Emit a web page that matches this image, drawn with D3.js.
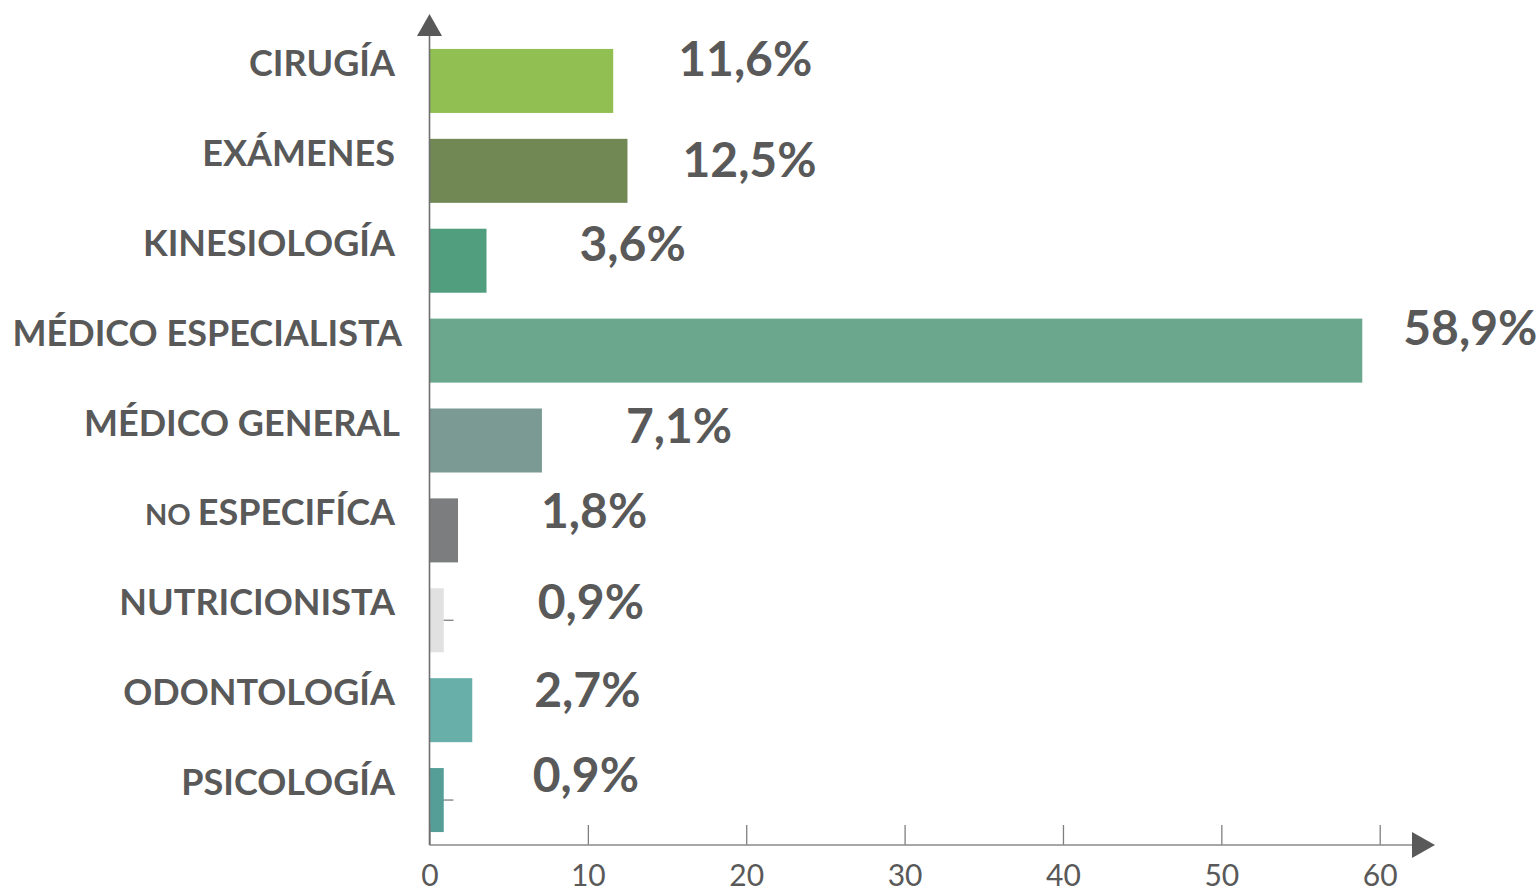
<!DOCTYPE html>
<html>
<head>
<meta charset="utf-8">
<script src="https://cdn.jsdelivr.net/npm/d3@7"></script>
<style>
    html, body { margin: 0; padding: 0; background: #fff; }
    svg { display: block; font-family: Lato, "Open Sans", sans-serif; }
</style>
</head>
<body>
<div id="chart"></div>
<script>
// Data
const categories = ['CIRUGÍA', 'EXÁMENES', 'KINESIOLOGÍA', 'MÉDICO ESPECIALISTA',
    'MÉDICO GENERAL', 'NO ESPECIFÍCA', 'NUTRICIONISTA', 'ODONTOLOGÍA', 'PSICOLOGÍA'];
const values = [11.6, 12.5, 3.6, 58.9, 7.1, 1.8, 0.9, 2.7, 0.9];
const valueLabels = ['11,6%', '12,5%', '3,6%', '58,9%', '7,1%', '1,8%', '0,9%', '2,7%', '0,9%'];
const barColors = ['#92bf52', '#718754', '#519e7f', '#6aa78c', '#7b9a94',
    '#7b7d7e', '#e1e1e1', '#68afaa', '#559e97'];
const xTicks = [0, 10, 20, 30, 40, 50, 60];

// Manual label placement from the original (layout only)
const valueDx = [65, 55, 93, 41, 84, 83, 94, 62, 89];
const valueDy = [-22, -11, -17.5, -23, -14.5, -19.5, -19, -20, -25.5];
const catDx = [0, 0, 0, 7, 5, 0, 0, 0, 0];

const width = 1540, height = 893;
const textColor = '#595959';

const svg = d3.select('#chart').append('svg')
    .attr('width', width)
    .attr('height', height);

const x = d3.scaleLinear().domain([0, 60]).range([429.5, 1379.7]);
const y = d3.scaleBand().domain(categories).range([36, 845])
    .paddingInner(0.288).paddingOuter(0.144);

const x0 = x(0);
const axisY = 845;

// small category ticks (sit behind the bars)
svg.append('g')
    .attr('transform', `translate(${x0},0)`)
    .call(d3.axisRight(y).tickSize(24).tickFormat(''))
    .call(g => g.select('.domain').remove())
    .call(g => g.selectAll('line').attr('stroke', '#7f7f7f').attr('stroke-width', 1.3));

// bars
svg.append('g').selectAll('rect')
    .data(categories)
    .join('rect')
    .attr('x', x0)
    .attr('y', d => y(d))
    .attr('width', (d, i) => x(values[i]) - x0)
    .attr('height', y.bandwidth())
    .attr('fill', (d, i) => barColors[i]);

// x axis: ticks upward, labels below
svg.append('g')
    .attr('transform', `translate(0,${axisY})`)
    .call(d3.axisBottom(x).tickValues(xTicks).tickSize(-20).tickPadding(20))
    .call(g => g.select('.domain').remove())
    .call(g => g.selectAll('line').attr('stroke', '#7f7f7f').attr('stroke-width', 1.3))
    .call(g => g.selectAll('text')
        .attr('fill', textColor)
        .style('font-family', 'Lato, sans-serif')
        .style('font-size', '30px'));

// axis lines with arrowheads
svg.append('line')
    .attr('x1', x0).attr('x2', 1413)
    .attr('y1', axisY).attr('y2', axisY)
    .attr('stroke', '#8a8a8a').attr('stroke-width', 1.6);
svg.append('line')
    .attr('x1', x0).attr('x2', x0)
    .attr('y1', axisY).attr('y2', 35)
    .attr('stroke', '#6f6f6f').attr('stroke-width', 1.6);
svg.append('path')
    .attr('d', `M1412,832 L1435,845 L1412,858 Z`)
    .attr('fill', textColor);
svg.append('path')
    .attr('d', `M${x0 - 12.5},36 L${x0},14 L${x0 + 12.5},36 Z`)
    .attr('fill', textColor);

// category labels
const catText = svg.append('g').selectAll('text')
    .data(categories)
    .join('text')
    .attr('x', (d, i) => 395 + catDx[i])
    .attr('y', d => y(d) + y.bandwidth() / 2 - 18 + 13)
    .attr('text-anchor', 'end')
    .attr('fill', textColor)
    .style('font-weight', 700)
    .style('font-size', '36px');

catText.each(function(d) {
    const t = d3.select(this);
    if (d.startsWith('NO ')) {
        t.append('tspan').style('font-size', '29px').text('NO ');
        t.append('tspan').text(d.slice(3));
    } else {
        t.text(d);
    }
});

// value labels
svg.append('g').selectAll('text')
    .data(categories)
    .join('text')
    .attr('x', (d, i) => x(values[i]) + valueDx[i])
    .attr('y', (d, i) => y(d) + y.bandwidth() / 2 + valueDy[i] + 17.3)
    .attr('fill', textColor)
    .style('font-weight', 700)
    .style('font-size', '48px')
    .text((d, i) => valueLabels[i]);
</script>
</body>
</html>
